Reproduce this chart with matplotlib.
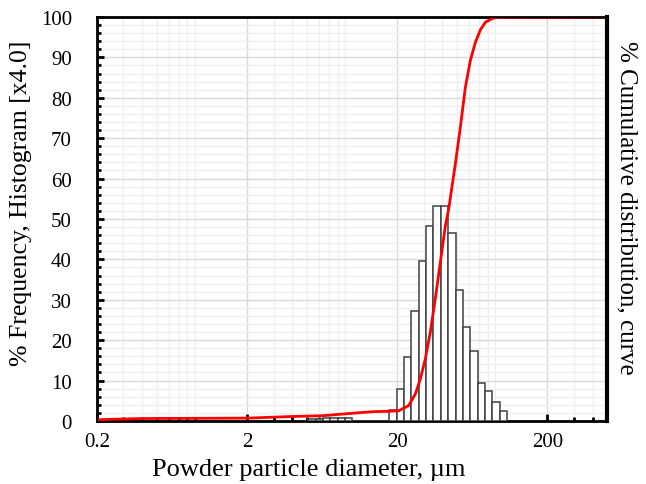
import numpy as np
import matplotlib.pyplot as plt
from matplotlib.ticker import LogLocator, FixedLocator, MultipleLocator, NullFormatter

plt.rcParams['font.family'] = ['Liberation Serif', 'DejaVu Serif']

# histogram bins (um) and frequency (% x4.0)
bin_edges = [5.10, 5.71, 6.39, 7.16, 8.01, 8.97, 10.05, 11.25, 12.59, 14.10,
             15.79, 17.67, 19.79, 22.15, 24.80, 27.77, 31.09, 34.81, 38.97,
             43.63, 48.85, 54.69, 61.23, 68.56, 76.76, 85.94, 96.22, 107.73]
freq = [0.4, 0.5, 0.7, 0.7, 0.7, 0.7, 0.0, 0.0, 0.0, 0.0, 0.0,
        2.8, 7.9, 15.9, 27.3, 39.7, 48.3, 53.3, 53.3, 46.5, 32.3,
        23.2, 17.3, 9.3, 7.5, 4.6, 2.5]

# cumulative distribution curve
cum_x = [0.2, 0.4, 2.0, 4.0, 6.4, 10.8, 13.8, 18.0, 20.4, 23.8, 26.4, 28.5,
         30.7, 33.2, 35.8, 38.7, 41.8, 44.0, 48.7, 52.6, 56.8, 61.3, 66.2,
         71.5, 77.2, 85.6, 92.4, 500]
cum_y = [0.3, 0.6, 0.7, 1.1, 1.3, 2.0, 2.3, 2.4, 2.5, 3.8, 6.7, 10.4,
         15.3, 22.0, 30.2, 39.3, 48.3, 52.5, 63.6, 72.7, 82.6, 89.2, 93.7,
         96.8, 98.7, 99.6, 99.9, 100]

xticks = [0.2, 2, 20, 200]
xticklabels = ['0.2', '2', '20', '200']

fig = plt.figure(figsize=(6.46, 4.85), dpi=100)
ax = fig.add_axes([0.150, 0.130, 0.790, 0.833])

edges = np.array(bin_edges)
ax.bar(edges[:-1], freq, width=np.diff(edges), align='edge',
       facecolor='white', edgecolor='#404040', linewidth=1.1, zorder=3)
ax.plot(cum_x, cum_y, color='#ff0000', linewidth=2, zorder=4)

ax.set_xscale('log')
ax.set_xlim(0.2, 500)
ax.set_ylim(0, 100)

ax.xaxis.set_major_locator(FixedLocator(xticks))
ax.set_xticklabels(xticklabels)
ax.xaxis.set_minor_locator(LogLocator(base=10, subs=np.arange(2, 10)))
ax.xaxis.set_minor_formatter(NullFormatter())
ax.yaxis.set_major_locator(MultipleLocator(10))
ax.yaxis.set_minor_locator(MultipleLocator(2))

ax.grid(which='major', color='#d9d9d9', linewidth=1, zorder=0)
ax.grid(which='minor', color='#efefef', linewidth=1, zorder=0)
ax.set_axisbelow(True)

ax.tick_params(which='both', direction='in', color='black', labelsize=15)
ax.tick_params(which='major', length=5, width=2)
ax.tick_params(which='minor', length=3, width=2)
ax.tick_params(axis='x', pad=8)
ax.tick_params(axis='y', pad=18)
ax.tick_params(axis='y', which='both', right=False)

for s in ax.spines.values():
    s.set_linewidth(2)
    s.set_color('black')

ax.set_xlabel('Powder particle diameter, µm', fontsize=19, labelpad=5, x=0.416)
ax.set_ylabel('% Frequency, Histogram [x4.0]', fontsize=18.5, labelpad=6, y=0.54)

ax2 = ax.twinx()
ax2.set_ylim(0, 100)
ax2.set_yticks([])
ax2.spines['right'].set_linewidth(3)
ax2.set_ylabel('% Cumulative distribution, curve', fontsize=18,
               rotation=-90, labelpad=22, y=0.53)

fig.savefig('out.png', dpi=100)
